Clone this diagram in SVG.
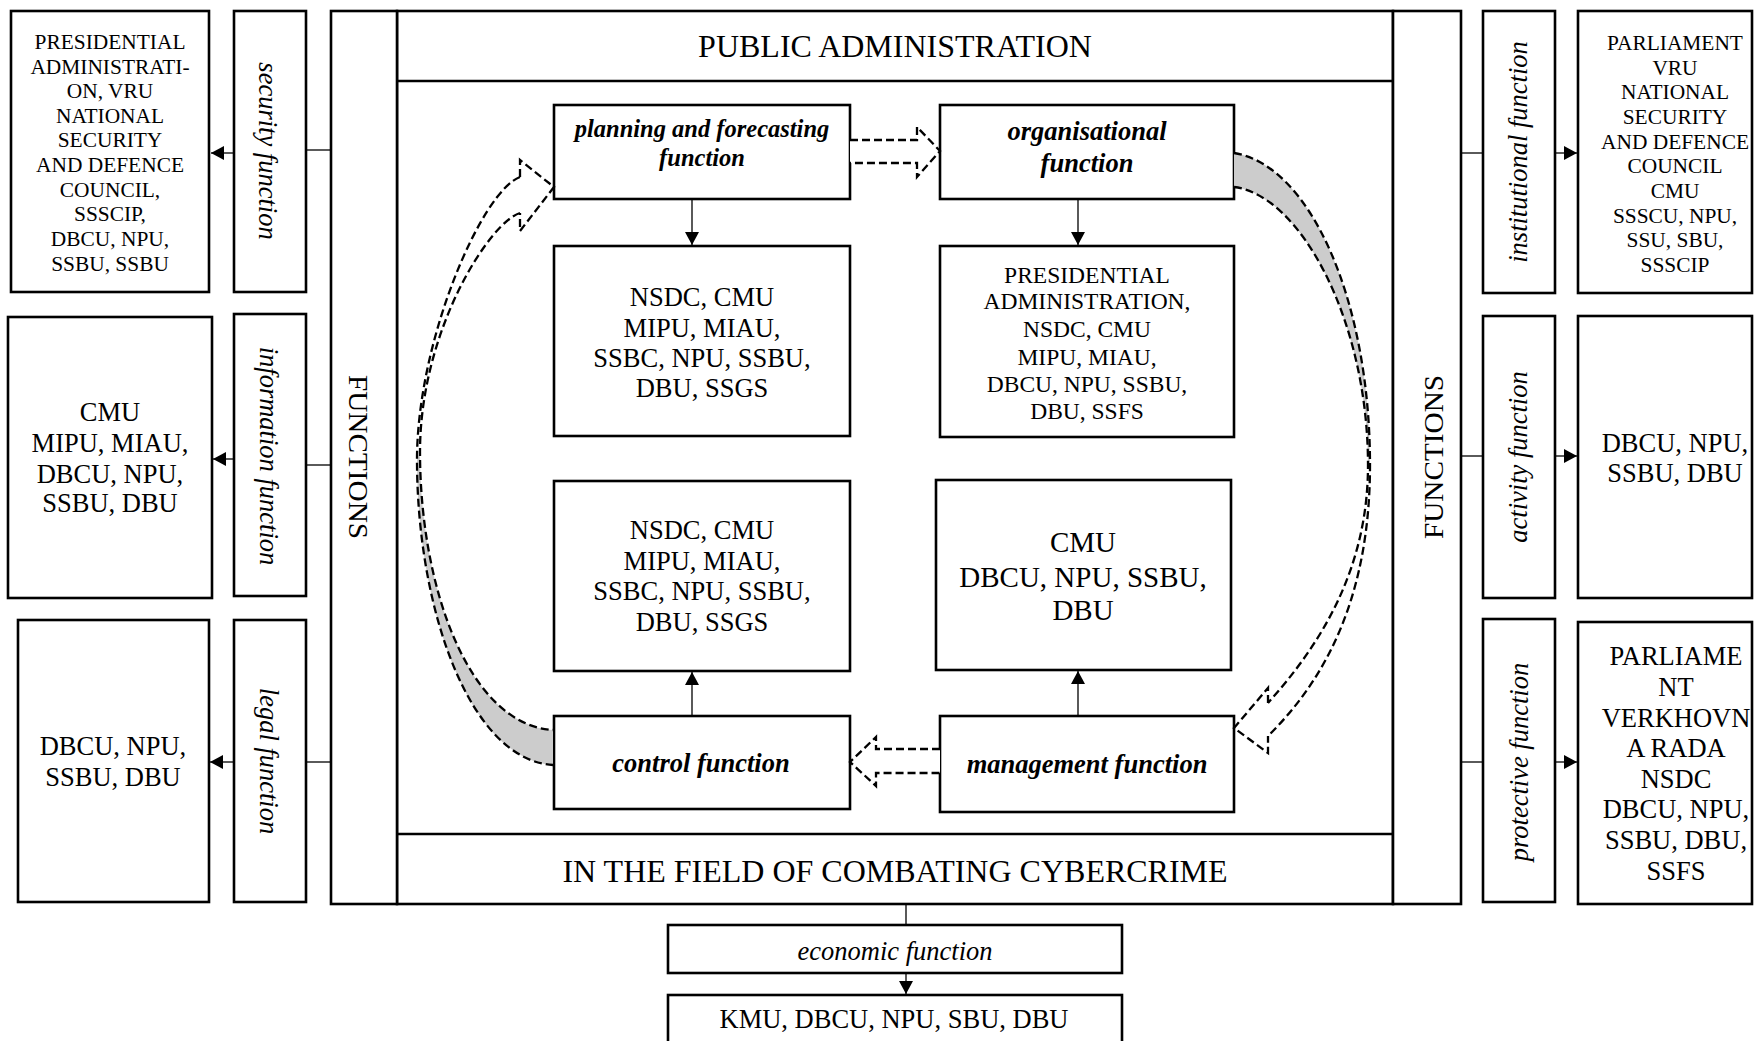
<svg xmlns="http://www.w3.org/2000/svg" width="1754" height="1041" viewBox="0 0 1754 1041">
<style>
.box{fill:#fff;stroke:#000;stroke-width:2.6}
.ln{fill:none;stroke:#000;stroke-width:1.3}
.dash{fill:#fff;stroke:#000;stroke-width:2.3;stroke-dasharray:8 4}
.dl{fill:none;stroke:#000;stroke-width:2.3;stroke-dasharray:8 4}
.gray{fill:#cccccc;stroke:none}
text{font-family:"Liberation Serif","Times New Roman",serif;fill:#000;text-anchor:middle}
.s21{font-size:21.4px}
.s26{font-size:26.5px}
.s23{font-size:23.5px}
.s29{font-size:29px}
.s32{font-size:32px}
.it{font-style:italic;font-size:26.5px}
.bi{font-style:italic;font-weight:bold}
</style>
<defs>
<marker id="ah" markerUnits="userSpaceOnUse" markerWidth="14" markerHeight="14" refX="13" refY="7" orient="auto">
<path d="M0,0 L13,7 L0,14 Z" fill="#000"/>
</marker>
</defs>

<g id="main-frame">
<rect class="box" x="397" y="11" width="996" height="893"/>
<line class="box" x1="397" y1="81" x2="1393" y2="81"/>
<line class="box" x1="397" y1="834" x2="1393" y2="834"/>
<text class="s32" x="895" y="57">PUBLIC ADMINISTRATION</text>
<text class="s32" x="895" y="882">IN THE FIELD OF COMBATING CYBERCRIME</text>
</g>

<g id="functions-left">
<rect class="box" x="331" y="11" width="66" height="893"/>
<text style="font-size:28px" transform="translate(349,457) rotate(90)" textLength="164" lengthAdjust="spacingAndGlyphs">FUNCTIONS</text>
</g>
<g id="functions-right">
<rect class="box" x="1393" y="11" width="68" height="893"/>
<text style="font-size:28px" transform="translate(1443,457) rotate(-90)" textLength="164" lengthAdjust="spacingAndGlyphs">FUNCTIONS</text>
</g>

<g id="security-bodies">
<rect class="box" x="11" y="11" width="198" height="281"/>
<text class="s21"><tspan x="110" y="49">PRESIDENTIAL</tspan><tspan x="110" y="74">ADMINISTRATI-</tspan><tspan x="110" y="98">ON, VRU</tspan><tspan x="110" y="123">NATIONAL</tspan><tspan x="110" y="147">SECURITY</tspan><tspan x="110" y="172">AND DEFENCE</tspan><tspan x="110" y="197">COUNCIL,</tspan><tspan x="110" y="221">SSSCIP,</tspan><tspan x="110" y="246">DBCU, NPU,</tspan><tspan x="110" y="271">SSBU, SSBU</tspan></text>
</g>
<g id="security-function">
<rect class="box" x="234" y="11" width="72" height="281"/>
<text class="it" transform="translate(259,151) rotate(90)">security function</text>
</g>
<g id="information-bodies">
<rect class="box" x="8" y="317" width="204" height="281"/>
<text class="s26"><tspan x="110" y="421">CMU</tspan><tspan x="110" y="452">MIPU, MIAU,</tspan><tspan x="110" y="483">DBCU, NPU,</tspan><tspan x="110" y="512">SSBU, DBU</tspan></text>
</g>
<g id="information-function">
<rect class="box" x="234" y="314" width="72" height="282"/>
<text class="it" transform="translate(260,456) rotate(90)">information function</text>
</g>
<g id="legal-bodies">
<rect class="box" x="18" y="620" width="191" height="282"/>
<text class="s26"><tspan x="113" y="755">DBCU, NPU,</tspan><tspan x="113" y="786">SSBU, DBU</tspan></text>
</g>
<g id="legal-function">
<rect class="box" x="234" y="620" width="72" height="282"/>
<text class="it" transform="translate(260,761) rotate(90)">legal function</text>
</g>

<g id="institutional-function">
<rect class="box" x="1483" y="11" width="72" height="282"/>
<text class="it" transform="translate(1527,152) rotate(-90)">institutional function</text>
</g>
<g id="institutional-bodies">
<rect class="box" x="1578" y="11" width="174" height="282"/>
<text class="s21"><tspan x="1675" y="50">PARLIAMENT</tspan><tspan x="1675" y="75">VRU</tspan><tspan x="1675" y="99">NATIONAL</tspan><tspan x="1675" y="124">SECURITY</tspan><tspan x="1675" y="149">AND DEFENCE</tspan><tspan x="1675" y="173">COUNCIL</tspan><tspan x="1675" y="198">CMU</tspan><tspan x="1675" y="223">SSSCU, NPU,</tspan><tspan x="1675" y="247">SSU, SBU,</tspan><tspan x="1675" y="272">SSSCIP</tspan></text>
</g>
<g id="activity-function">
<rect class="box" x="1483" y="316" width="72" height="282"/>
<text class="it" transform="translate(1527,457) rotate(-90)">activity function</text>
</g>
<g id="activity-bodies">
<rect class="box" x="1578" y="316" width="174" height="282"/>
<text class="s26"><tspan x="1675" y="452">DBCU, NPU,</tspan><tspan x="1675" y="482">SSBU, DBU</tspan></text>
</g>
<g id="protective-function">
<rect class="box" x="1483" y="619" width="72" height="283"/>
<text class="it" transform="translate(1528,762) rotate(-90)">protective function</text>
</g>
<g id="protective-bodies">
<rect class="box" x="1578" y="622" width="174" height="282"/>
<text class="s26"><tspan x="1676" y="665">PARLIAME</tspan><tspan x="1676" y="696">NT</tspan><tspan x="1676" y="727">VERKHOVN</tspan><tspan x="1676" y="757">A RADA</tspan><tspan x="1676" y="788">NSDC</tspan><tspan x="1676" y="818">DBCU, NPU,</tspan><tspan x="1676" y="849">SSBU, DBU,</tspan><tspan x="1676" y="880">SSFS</tspan></text>
</g>

<g id="planning-function">
<rect class="box" x="554" y="105" width="296" height="94"/>
<text class="bi" style="font-size:24.5px"><tspan x="702" y="137">planning and forecasting</tspan><tspan x="702" y="166">function</tspan></text>
</g>
<g id="organisational-function">
<rect class="box" x="940" y="105" width="294" height="94"/>
<text class="bi" style="font-size:26.5px"><tspan x="1087" y="140">organisational</tspan><tspan x="1087" y="172">function</tspan></text>
</g>
<g id="planning-bodies">
<rect class="box" x="554" y="246" width="296" height="190"/>
<text class="s26"><tspan x="702" y="306">NSDC, CMU</tspan><tspan x="702" y="337">MIPU, MIAU,</tspan><tspan x="702" y="367">SSBC, NPU, SSBU,</tspan><tspan x="702" y="397">DBU, SSGS</tspan></text>
</g>
<g id="organisational-bodies">
<rect class="box" x="940" y="246" width="294" height="191"/>
<text class="s23"><tspan x="1087" y="283">PRESIDENTIAL</tspan><tspan x="1087" y="309">ADMINISTRATION,</tspan><tspan x="1087" y="337">NSDC, CMU</tspan><tspan x="1087" y="365">MIPU, MIAU,</tspan><tspan x="1087" y="392">DBCU, NPU, SSBU,</tspan><tspan x="1087" y="419">DBU, SSFS</tspan></text>
</g>
<g id="control-bodies">
<rect class="box" x="554" y="481" width="296" height="190"/>
<text class="s26"><tspan x="702" y="539">NSDC, CMU</tspan><tspan x="702" y="570">MIPU, MIAU,</tspan><tspan x="702" y="600">SSBC, NPU, SSBU,</tspan><tspan x="702" y="631">DBU, SSGS</tspan></text>
</g>
<g id="management-bodies">
<rect class="box" x="936" y="480" width="295" height="190"/>
<text class="s29"><tspan x="1083" y="552">CMU</tspan><tspan x="1083" y="587">DBCU, NPU, SSBU,</tspan><tspan x="1083" y="620">DBU</tspan></text>
</g>
<g id="control-function">
<rect class="box" x="554" y="716" width="296" height="93"/>
<text class="bi" style="font-size:26.5px" x="701" y="772">control function</text>
</g>
<g id="management-function">
<rect class="box" x="940" y="716" width="294" height="96"/>
<text class="bi" style="font-size:26.5px" x="1087" y="773">management function</text>
</g>

<g id="economic-function">
<rect class="box" x="668" y="925" width="454" height="48"/>
<text class="it" x="895" y="960">economic function</text>
</g>
<g id="economic-bodies">
<rect class="box" x="668" y="995" width="454" height="70"/>
<text class="s26" x="894" y="1028">KMU, DBCU, NPU, SBU, DBU</text>
</g>

<g id="connectors">
<line class="ln" x1="306" y1="150" x2="331" y2="150"/>
<line class="ln" x1="306" y1="465" x2="331" y2="465"/>
<line class="ln" x1="306" y1="762" x2="331" y2="762"/>
<line class="ln" x1="234" y1="153" x2="211" y2="153" marker-end="url(#ah)"/>
<line class="ln" x1="234" y1="459" x2="213" y2="459" marker-end="url(#ah)"/>
<line class="ln" x1="234" y1="762" x2="210" y2="762" marker-end="url(#ah)"/>
<line class="ln" x1="1461" y1="153" x2="1483" y2="153"/>
<line class="ln" x1="1461" y1="456" x2="1483" y2="456"/>
<line class="ln" x1="1461" y1="762" x2="1483" y2="762"/>
<line class="ln" x1="1555" y1="153" x2="1577" y2="153" marker-end="url(#ah)"/>
<line class="ln" x1="1555" y1="456" x2="1577" y2="456" marker-end="url(#ah)"/>
<line class="ln" x1="1555" y1="762" x2="1577" y2="762" marker-end="url(#ah)"/>
<line class="ln" x1="906" y1="904" x2="906" y2="925"/>
<line class="ln" x1="906" y1="973" x2="906" y2="994" marker-end="url(#ah)"/>
<line class="ln" x1="692" y1="199" x2="692" y2="245" marker-end="url(#ah)"/>
<line class="ln" x1="1078" y1="199" x2="1078" y2="245" marker-end="url(#ah)"/>
<line class="ln" x1="692" y1="716" x2="692" y2="672" marker-end="url(#ah)"/>
<line class="ln" x1="1078" y1="716" x2="1078" y2="671" marker-end="url(#ah)"/>

<path class="dash" d="M850,140 L917,140 L917,127 L940,151 L917,177 L917,163 L850,163"/>
<path class="dash" d="M940,749 L876,749 L876,737 L850,762 L876,786 L876,773 L940,773"/>

<path class="gray" d="M417,460 C417,610 470,760 553,765 L553,730 C470,725 420,590 420,452 Z"/>
<path class="dl" d="M520,177 C482,191 417,340 417,460 C417,610 470,760 553,765"/>
<path class="dl" d="M520,213 C490,222 420,330 420,452 C420,590 470,725 553,730"/>
<path class="dl" d="M520,177 L520,160 L554,187 L520,231 L520,213"/>

<path class="gray" d="M1234,153 C1310,165 1370,300 1370,465 L1368,465 C1368,320 1300,195 1234,187 Z"/>
<path class="dl" d="M1234,153 C1310,165 1370,300 1370,465 C1370,590 1330,675 1268,736"/>
<path class="dl" d="M1234,187 C1300,195 1368,320 1368,465 C1368,570 1320,645 1268,703"/>
<path class="dl" d="M1268,703 L1268,688 L1234,728 L1268,753 L1268,736"/>
</g>
</svg>
